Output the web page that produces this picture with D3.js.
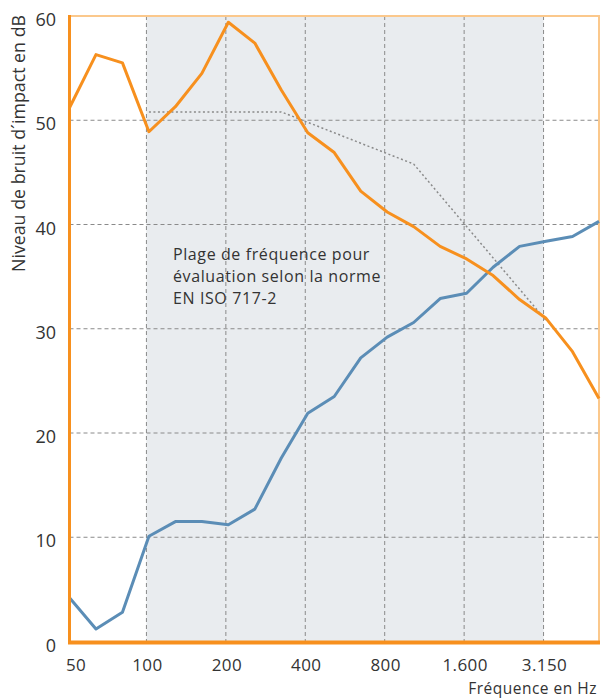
<!DOCTYPE html>
<html><head><meta charset="utf-8">
<script src="https://cdn.jsdelivr.net/npm/d3@7"></script>
<style>body{margin:0;background:#fff}svg{display:block;font-family:"Open Sans",Lato,sans-serif}</style>
</head><body><svg id="c" width="602" height="698"></svg>
<script>
const freqs = ["50","63","80","100","125","160","200","250","315","400","500","630","800","1000","1250","1600","2000","2500","3150","4000","5000"];
const tickFreqs = ["50","100","200","400","800","1600","3150"];
const tickLabels = ["50","100","200","400","800","1.600","3.150"];
const yTicks = [0,10,20,30,40,50,60];
const orangeValues = [51.2,56.3,55.5,48.9,51.3,54.5,59.4,57.4,52.9,48.8,46.9,43.2,41.2,39.8,37.9,36.7,35.1,32.8,31.0,27.8,23.3];
const blueValues = [4.2,1.2,2.8,10.1,11.5,11.5,11.2,12.7,17.6,21.9,23.5,27.2,29.2,30.6,32.9,33.4,35.9,37.9,38.4,38.85,40.3];
const refFreqs = ["100","125","160","200","250","315","400","500","630","800","1000","1250","1600","2000","2500","3150"];
const refValues = [50.8,50.8,50.8,50.8,50.8,50.8,49.8,48.8,47.8,46.8,45.8,42.8,39.8,36.8,33.8,30.8];
const rangeStart = "100", rangeEnd = "3150";
const noteLines = ["Plage de fréquence pour","évaluation selon la norme","EN ISO 717-2"];

const svg = d3.select("#c");
const L=69.5, R=599, T=16, B=641.5;
const x = d3.scalePoint().domain(freqs).range([L,R]);
const y = d3.scaleLinear().domain([0,60]).range([B,T]);
const gridX = d => x(d)-2.5;

svg.append("rect").attr("x",gridX(rangeStart)).attr("y",T).attr("width",gridX(rangeEnd)-gridX(rangeStart)).attr("height",B-T).attr("fill","#e9ecef");

svg.append("g").selectAll("line").data(yTicks.filter(v=>v>0&&v<60)).join("line")
  .attr("x1",L).attr("x2",R).attr("y1",d=>y(d)).attr("y2",d=>y(d))
  .attr("stroke","#8a8a8a").attr("stroke-width",1).attr("stroke-dasharray","4,3");
svg.append("g").selectAll("line").data(tickFreqs.slice(1)).join("line")
  .attr("x1",gridX).attr("x2",gridX).attr("y1",T).attr("y2",B)
  .attr("stroke","#8a8a8a").attr("stroke-width",1).attr("stroke-dasharray","4,3");

svg.append("line").attr("x1",L).attr("x2",R+1).attr("y1",T).attr("y2",T).attr("stroke","#fbc88c").attr("stroke-width",2);
svg.append("line").attr("x1",R).attr("x2",R).attr("y1",T).attr("y2",B).attr("stroke","#fbc88c").attr("stroke-width",2);

const line = d3.line().x(d=>x(d[0])).y(d=>y(d[1]));
svg.append("path").datum(refFreqs.map((f,i)=>[f,refValues[i]])).attr("d",line)
  .attr("fill","none").attr("stroke","#8a8a8a").attr("stroke-width",1.5).attr("stroke-dasharray","2,2.5");

svg.append("path").datum(blueValues.map((v,i)=>[freqs[i],v])).attr("d",line)
  .attr("fill","none").attr("stroke","#5b8db6").attr("stroke-width",3).attr("stroke-linejoin","round");
svg.append("path").datum(orangeValues.map((v,i)=>[freqs[i],v])).attr("d",line)
  .attr("fill","none").attr("stroke","#f7901e").attr("stroke-width",3).attr("stroke-linejoin","round");

svg.append("line").attr("x1",L).attr("x2",L).attr("y1",T-1).attr("y2",B+2).attr("stroke","#f7901e").attr("stroke-width",3);
svg.append("line").attr("x1",L-1.5).attr("x2",R+1).attr("y1",B+1).attr("y2",B+1).attr("stroke","#f7901e").attr("stroke-width",4);

svg.append("g").selectAll("text").data(yTicks).join("text")
  .attr("x",56).attr("y",d=>y(d)+10).attr("text-anchor","end")
  .attr("font-size",18).attr("fill","#333").text(d=>d);
svg.append("g").selectAll("text").data(tickFreqs).join("text")
  .attr("x",(d,i)=>i===0?66:gridX(d)+1).attr("y",671).attr("text-anchor",(d,i)=>i===0?"start":"middle")
  .attr("font-size",17).attr("letter-spacing",0.4).attr("fill","#333").text((d,i)=>tickLabels[i]);

svg.append("text").attr("x",597).attr("y",693.5).attr("text-anchor","end").attr("font-size",15.5).attr("letter-spacing",0.5).attr("fill","#333").text("Fréquence en Hz");
svg.append("text").attr("transform","translate(25,15) rotate(-90)").attr("text-anchor","end").attr("font-size",17.8).attr("fill","#333").text("Niveau de bruit d´impact en dB");

svg.append("text").attr("x",173).attr("y",260).attr("font-size",16).attr("letter-spacing",0.6).attr("fill","#333")
  .selectAll("tspan").data(noteLines).join("tspan").attr("x",173).attr("dy",(d,i)=>i===0?0:22).text(d=>d);
</script></body></html>
